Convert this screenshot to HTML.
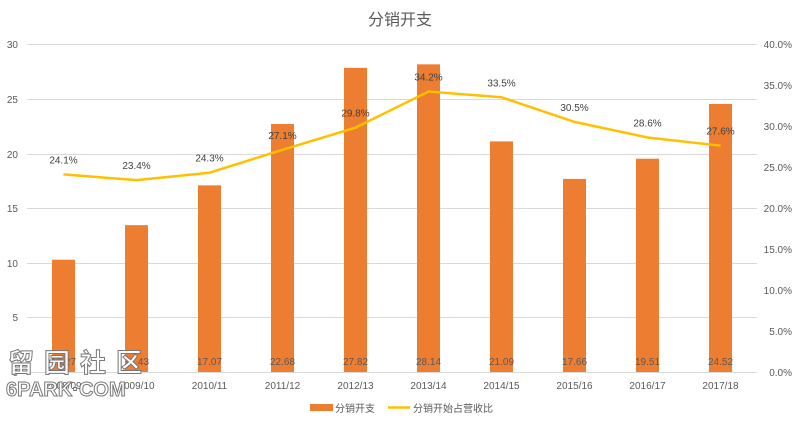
<!DOCTYPE html><html><head><meta charset="utf-8"><style>body{margin:0;background:#fff}svg{display:block}text{font-family:"Liberation Sans","Noto Sans CJK SC",sans-serif}</style></head><body>
<svg width="800" height="426" xmlns="http://www.w3.org/2000/svg">
<rect width="800" height="426" fill="#fff"/>
<text x="400" y="25" text-anchor="middle" font-size="16" fill="#595959">分销开支</text>
<g stroke="#d9d9d9" stroke-width="1">
<line x1="27" x2="757" y1="44.5" y2="44.5"/><line x1="27" x2="757" y1="99.5" y2="99.5"/><line x1="27" x2="757" y1="154.5" y2="154.5"/><line x1="27" x2="757" y1="208.5" y2="208.5"/><line x1="27" x2="757" y1="263.5" y2="263.5"/><line x1="27" x2="757" y1="317.5" y2="317.5"/><line x1="27" x2="757" y1="372.5" y2="372.5"/>
</g>
<g font-size="10" fill="#595959" text-anchor="end">
<text x="18" y="48">30</text><text x="18" y="103">25</text><text x="18" y="158">20</text><text x="18" y="212">15</text><text x="18" y="267">10</text><text x="18" y="321">5</text><text x="18" y="376">0</text>
<text x="792" y="48">40.0%</text><text x="792" y="89">35.0%</text><text x="792" y="130">30.0%</text><text x="792" y="171">25.0%</text><text x="792" y="212">20.0%</text><text x="792" y="253">15.0%</text><text x="792" y="294">10.0%</text><text x="792" y="335">5.0%</text><text x="792" y="376">0.0%</text>
</g>
<g id="bars" fill="#ed7d31"></g>
<g id="blab" font-size="10" fill="#595959" text-anchor="middle"></g>
<g id="xl" font-size="10" fill="#595959" text-anchor="middle"></g>
<polyline id="ln" fill="none" stroke="#ffc000" stroke-width="2.5" stroke-linejoin="round"/>
<g id="llab" font-size="10" fill="#404040" text-anchor="middle"></g>
<rect x="310" y="404" width="23" height="7" fill="#ed7d31"/>
<text x="335" y="412" font-size="10" fill="#595959">分销开支</text>
<line x1="388" x2="410" y1="407.5" y2="407.5" stroke="#ffc000" stroke-width="2.5"/>
<text x="413" y="412" font-size="10" fill="#595959">分销开始占营收比</text>
<text x="8" y="372" font-size="26" font-weight="bold" fill="#fff" stroke="#777" stroke-width="1" letter-spacing="10">留园社区</text>
<text x="6" y="396" font-size="20" font-weight="bold" fill="#fff" stroke="#777" stroke-width="1">6PARK·COM</text>
</svg>
<script>
var v=[10.27,13.43,17.07,22.68,27.82,28.14,21.09,17.66,19.51,24.52],p=[24.1,23.4,24.3,27.1,29.8,34.2,33.5,30.5,28.6,27.6],
c=["2008/09","2009/10","2010/11","2011/12","2012/13","2013/14","2014/15","2015/16","2016/17","2017/18"],
ns="http://www.w3.org/2000/svg",pts=[];
function el(g,t,a,tx){var e=document.createElementNS(ns,t);for(var k in a)e.setAttribute(k,a[k]);if(tx)e.textContent=tx;document.getElementById(g).appendChild(e);}
for(var i=0;i<10;i++){var cx=63.5+73*i,y=372-v[i]*10.933;
el("bars","rect",{x:cx-11.5,y:y,width:23,height:372-y});
el("blab","text",{x:cx,y:365},v[i].toFixed(2));
el("xl","text",{x:cx,y:389},c[i]);
var ly=372-p[i]*8.2;pts.push(cx+","+ly);
el("llab","text",{x:cx,y:ly-11},p[i].toFixed(1)+"%");}
document.getElementById("ln").setAttribute("points",pts.join(" "));
</script>
</body></html>
